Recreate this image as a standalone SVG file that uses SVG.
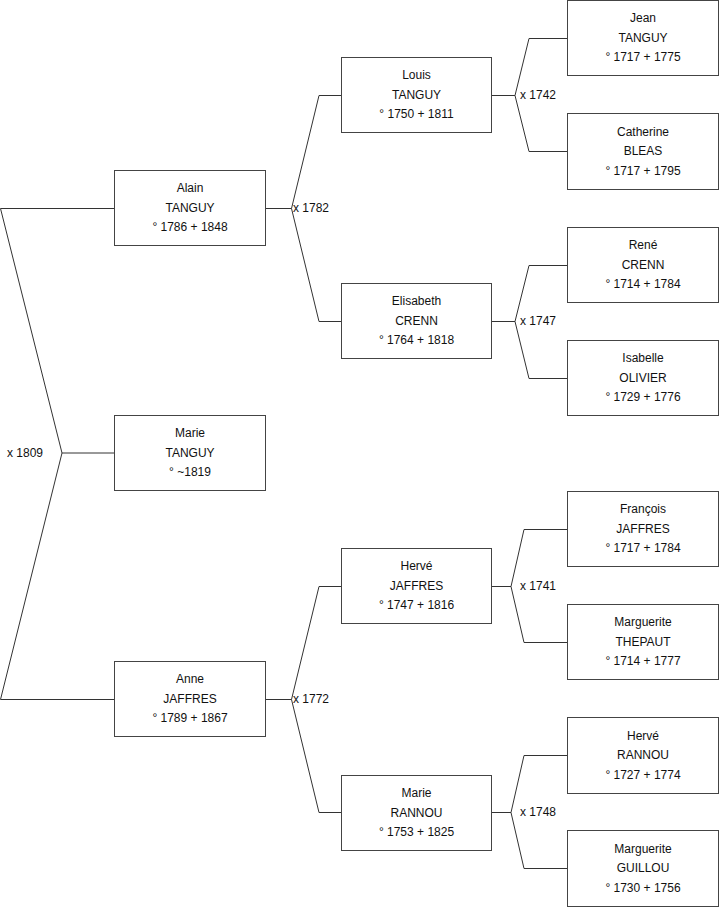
<svg xmlns="http://www.w3.org/2000/svg" width="719" height="908" viewBox="0 0 719 908">
<style>
.box{fill:#fff;stroke:#444;stroke-width:1}
.t{font-family:"Liberation Sans",Arial,sans-serif;font-size:12px;fill:#111;text-anchor:middle}
.l{font-family:"Liberation Sans",Arial,sans-serif;font-size:12px;fill:#111}
.c{fill:none;stroke:#333;stroke-width:1}
</style>
<rect width="719" height="908" fill="#fff"/>
<g id="connectors">
<path class="c" d="M114.5,208.5 H0.5 L62,453 L0.5,699.5 H114.5 M62,453 H114.5"/>
<path class="c" d="M265.5,208.5 H291.5 L319,95.5 H341.5 M291.5,208.5 L319,321.5 H341.5"/>
<path class="c" d="M265.5,699.5 H291.5 L319,586.5 H341.5 M291.5,699.5 L319,812.5 H341.5"/>
<path class="c" d="M491.5,95.5 H515 L529,38.5 H567.5 M515,95.5 L529,151.5 H567.5"/>
<path class="c" d="M491.5,321.5 H515 L529,265.5 H567.5 M515,321.5 L529,378.5 H567.5"/>
<path class="c" d="M491.5,586.5 H511 L524,529.5 H567.5 M511,586.5 L524,642.5 H567.5"/>
<path class="c" d="M491.5,812.5 H511 L524,755.5 H567.5 M511,812.5 L524,868.5 H567.5"/>
<text class="l" x="7" y="457">x 1809</text>
<text class="l" x="293" y="212">x 1782</text>
<text class="l" x="293" y="703">x 1772</text>
<text class="l" x="520" y="99">x 1742</text>
<text class="l" x="520" y="325">x 1747</text>
<text class="l" x="520" y="590">x 1741</text>
<text class="l" x="520" y="816">x 1748</text>
</g>
<g id="alain"><rect class="box" x="114.5" y="170.5" width="151" height="75"/><text class="t" x="190" y="192">Alain</text><text class="t" x="190" y="211.5">TANGUY</text><text class="t" x="190" y="231">° 1786 + 1848</text></g>
<g id="marie-tanguy"><rect class="box" x="114.5" y="415.5" width="151" height="75"/><text class="t" x="190" y="437">Marie</text><text class="t" x="190" y="456.5">TANGUY</text><text class="t" x="190" y="476">° ~1819</text></g>
<g id="anne"><rect class="box" x="114.5" y="661.5" width="151" height="75"/><text class="t" x="190" y="683">Anne</text><text class="t" x="190" y="702.5">JAFFRES</text><text class="t" x="190" y="722">° 1789 + 1867</text></g>
<g id="louis"><rect class="box" x="341.5" y="57.5" width="150" height="75"/><text class="t" x="416.5" y="79">Louis</text><text class="t" x="416.5" y="98.5">TANGUY</text><text class="t" x="416.5" y="118">° 1750 + 1811</text></g>
<g id="elisabeth"><rect class="box" x="341.5" y="283.5" width="150" height="75"/><text class="t" x="416.5" y="305">Elisabeth</text><text class="t" x="416.5" y="324.5">CRENN</text><text class="t" x="416.5" y="344">° 1764 + 1818</text></g>
<g id="herve-jaffres"><rect class="box" x="341.5" y="548.5" width="150" height="75"/><text class="t" x="416.5" y="570">Hervé</text><text class="t" x="416.5" y="589.5">JAFFRES</text><text class="t" x="416.5" y="609">° 1747 + 1816</text></g>
<g id="marie-rannou"><rect class="box" x="341.5" y="775.5" width="150" height="75"/><text class="t" x="416.5" y="797">Marie</text><text class="t" x="416.5" y="816.5">RANNOU</text><text class="t" x="416.5" y="836">° 1753 + 1825</text></g>
<g id="jean"><rect class="box" x="567.5" y="0.5" width="151" height="75"/><text class="t" x="643" y="22">Jean</text><text class="t" x="643" y="41.5">TANGUY</text><text class="t" x="643" y="61">° 1717 + 1775</text></g>
<g id="catherine"><rect class="box" x="567.5" y="113.5" width="151" height="76"/><text class="t" x="643" y="135.5">Catherine</text><text class="t" x="643" y="155">BLEAS</text><text class="t" x="643" y="174.5">° 1717 + 1795</text></g>
<g id="rene"><rect class="box" x="567.5" y="227.5" width="151" height="75"/><text class="t" x="643" y="249">René</text><text class="t" x="643" y="268.5">CRENN</text><text class="t" x="643" y="288">° 1714 + 1784</text></g>
<g id="isabelle"><rect class="box" x="567.5" y="340.5" width="151" height="75"/><text class="t" x="643" y="362">Isabelle</text><text class="t" x="643" y="381.5">OLIVIER</text><text class="t" x="643" y="401">° 1729 + 1776</text></g>
<g id="francois"><rect class="box" x="567.5" y="491.5" width="151" height="75"/><text class="t" x="643" y="513">François</text><text class="t" x="643" y="532.5">JAFFRES</text><text class="t" x="643" y="552">° 1717 + 1784</text></g>
<g id="marguerite-thepaut"><rect class="box" x="567.5" y="604.5" width="151" height="75"/><text class="t" x="643" y="626">Marguerite</text><text class="t" x="643" y="645.5">THEPAUT</text><text class="t" x="643" y="665">° 1714 + 1777</text></g>
<g id="herve-rannou"><rect class="box" x="567.5" y="717.5" width="151" height="76"/><text class="t" x="643" y="739.5">Hervé</text><text class="t" x="643" y="759">RANNOU</text><text class="t" x="643" y="778.5">° 1727 + 1774</text></g>
<g id="marguerite-guillou"><rect class="box" x="567.5" y="830.5" width="151" height="76"/><text class="t" x="643" y="852.5">Marguerite</text><text class="t" x="643" y="872">GUILLOU</text><text class="t" x="643" y="891.5">° 1730 + 1756</text></g>
</svg>
